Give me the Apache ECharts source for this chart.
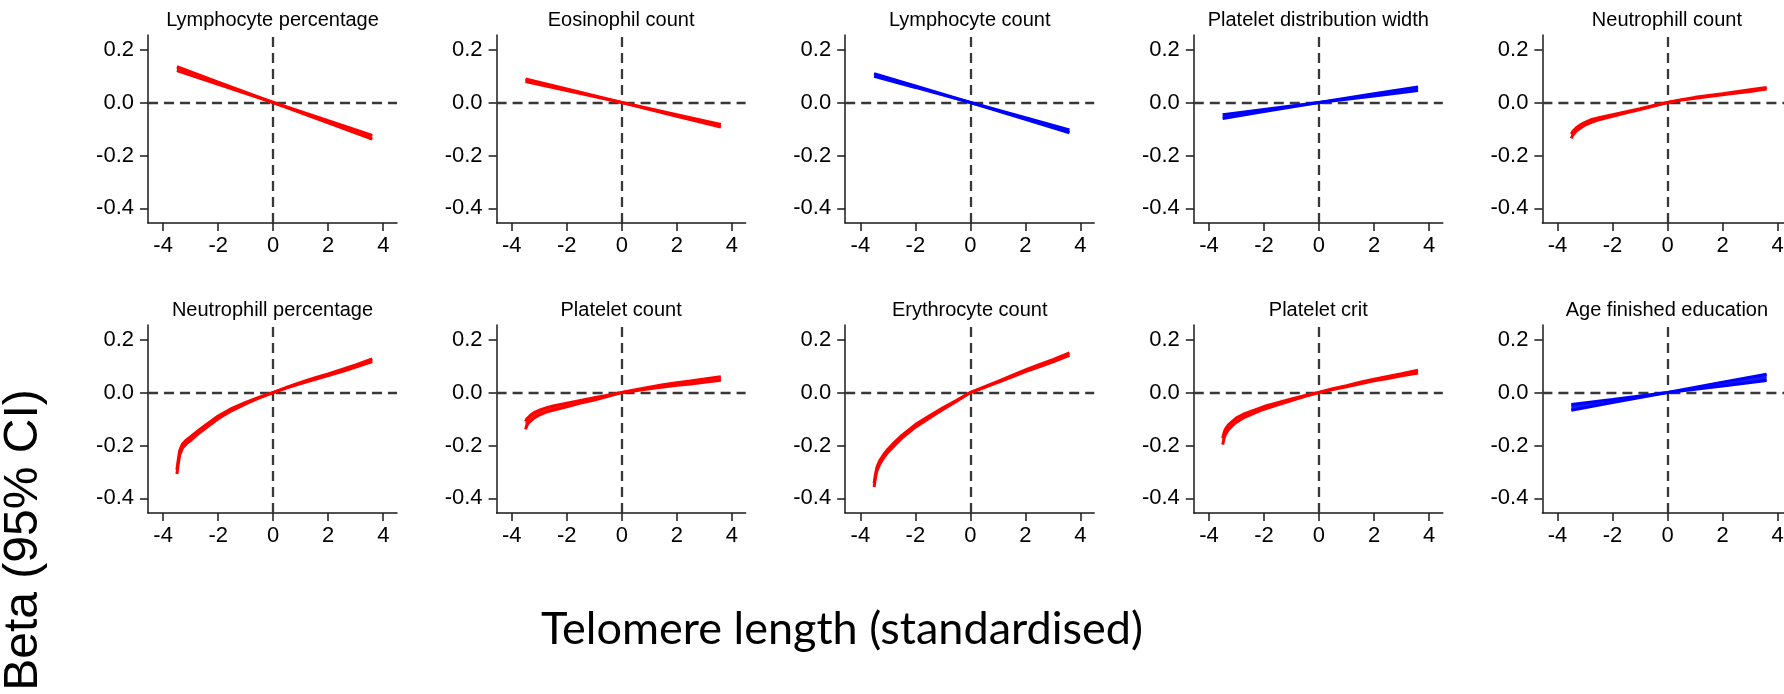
<!DOCTYPE html>
<html>
<head>
<meta charset="utf-8">
<title>Telomere length associations</title>
<script src="https://cdn.jsdelivr.net/npm/echarts@6/dist/echarts.min.js"></script>
<style>
  html, body { margin: 0; padding: 0; background: #fff; }
  #chart { width: 1784px; height: 694px; }
</style>
</head>
<body>
<div id="chart"></div>
<script>
// Panel titles, in reading order (two rows of five)
const panelTitles = [
  'Lymphocyte percentage', 'Eosinophil count', 'Lymphocyte count',
  'Platelet distribution width', 'Neutrophill count',
  'Neutrophill percentage', 'Platelet count', 'Erythrocyte count',
  'Platelet crit', 'Age finished education'
];

// Tick labels
const xTicks = [-4, -2, 0, 2, 4];
const yTicks = [-0.4, -0.2, 0, 0.2];

// Telomere length grid for straight (linear) fits and for curved fits
const xLine = [-3.5, -2, 0, 2, 3.6];
const xCurve = [-3.5, -3.45, -3.4, -3.3, -3.15, -3, -2.75, -2.5, -2, -1.5, -1, -0.5, 0, 0.5, 1, 1.5, 2, 2.5, 3, 3.6];

// Lower / upper 95% CI bounds of beta for each outcome
const lymphPctLo = [0.121, 0.069, 0, -0.077, -0.138];
const lymphPctHi = [0.135, 0.077, 0, -0.069, -0.124];

const eosinCountLo = [0.079, 0.045, 0, -0.052, -0.093];
const eosinCountHi = [0.089, 0.051, 0, -0.046, -0.083];

const lymphCountLo = [0.099, 0.057, 0, -0.063, -0.114];
const lymphCountHi = [0.109, 0.063, 0, -0.057, -0.104];

const pltDistWidthLo = [-0.060, -0.034, 0, 0.025, 0.045];
const pltDistWidthHi = [-0.046, -0.026, 0, 0.033, 0.059];

const neutCountLo = [-0.135, -0.124, -0.117, -0.106, -0.095, -0.085, -0.074, -0.065, -0.052, -0.039, -0.0265, -0.013, 0, 0.009, 0.0165, 0.023, 0.029, 0.0355, 0.042, 0.051];
const neutCountHi = [-0.119, -0.110, -0.103, -0.094, -0.083, -0.075, -0.064, -0.057, -0.046, -0.035, -0.0235, -0.011, 0, 0.011, 0.0195, 0.027, 0.033, 0.0405, 0.048, 0.057];

const neutPctLo = [-0.308, -0.270, -0.236, -0.211, -0.193, -0.181, -0.158, -0.138, -0.099, -0.068, -0.043, -0.0205, 0, 0.0175, 0.034, 0.049, 0.064, 0.079, 0.096, 0.117];
const neutPctHi = [-0.292, -0.254, -0.220, -0.195, -0.179, -0.167, -0.146, -0.126, -0.089, -0.060, -0.037, -0.0175, 0, 0.0205, 0.038, 0.055, 0.070, 0.087, 0.104, 0.127];

const pltCountLo = [-0.139, -0.125, -0.116, -0.106, -0.094, -0.085, -0.074, -0.067, -0.054, -0.040, -0.028, -0.014, 0, 0.007, 0.014, 0.021, 0.027, 0.032, 0.039, 0.046];
const pltCountHi = [-0.109, -0.099, -0.092, -0.084, -0.074, -0.067, -0.058, -0.051, -0.040, -0.030, -0.020, -0.010, 0, 0.011, 0.020, 0.029, 0.037, 0.044, 0.051, 0.060];

const eryCountLo = [-0.357, -0.322, -0.297, -0.272, -0.246, -0.226, -0.199, -0.173, -0.131, -0.097, -0.064, -0.0325, 0, 0.0185, 0.038, 0.058, 0.079, 0.097, 0.116, 0.140];
const eryCountHi = [-0.343, -0.308, -0.283, -0.258, -0.234, -0.214, -0.187, -0.163, -0.121, -0.089, -0.058, -0.0295, 0, 0.0215, 0.042, 0.064, 0.085, 0.105, 0.124, 0.150];

const pltCritLo = [-0.197, -0.173, -0.158, -0.141, -0.125, -0.112, -0.096, -0.084, -0.063, -0.046, -0.030, -0.0145, 0, 0.0115, 0.022, 0.033, 0.044, 0.053, 0.063, 0.074];
const pltCritHi = [-0.173, -0.151, -0.138, -0.123, -0.109, -0.096, -0.082, -0.072, -0.053, -0.038, -0.024, -0.0115, 0, 0.0145, 0.026, 0.039, 0.050, 0.061, 0.071, 0.084];

const ageEduLo = [-0.067, -0.038, 0, 0.025, 0.045];
const ageEduHi = [-0.045, -0.026, 0, 0.039, 0.069];

const RED = '#ff0000';
const BLUE = '#0000ff';

const panels = [
  { x: xLine,  lo: lymphPctLo,     hi: lymphPctHi,     color: RED },
  { x: xLine,  lo: eosinCountLo,   hi: eosinCountHi,   color: RED },
  { x: xLine,  lo: lymphCountLo,   hi: lymphCountHi,   color: BLUE },
  { x: xLine,  lo: pltDistWidthLo, hi: pltDistWidthHi, color: BLUE },
  { x: xCurve, lo: neutCountLo,    hi: neutCountHi,    color: RED },
  { x: xCurve, lo: neutPctLo,      hi: neutPctHi,      color: RED },
  { x: xCurve, lo: pltCountLo,     hi: pltCountHi,     color: RED },
  { x: xCurve, lo: eryCountLo,     hi: eryCountHi,     color: RED },
  { x: xCurve, lo: pltCritLo,      hi: pltCritHi,      color: RED },
  { x: xLine,  lo: ageEduLo,       hi: ageEduHi,       color: BLUE }
];

const FONT = 'Liberation Sans, Arial, sans-serif';
const AXIS_COLOR = '#1a1a1a';
const BAND_LINE_W = 3;
const PANEL_LEFT0 = 148, PANEL_STEP = 348.6, PANEL_W = 249, PANEL_H = 188;
const ROW_TOP = [35, 325];

const grids = [], xAxes = [], yAxes = [], series = [], titles = [];

panels.forEach((p, i) => {
  const col = i % 5, row = Math.floor(i / 5);
  const left = PANEL_LEFT0 + PANEL_STEP * col;
  const top = ROW_TOP[row];
  grids.push({ left: left, top: top, width: PANEL_W, height: PANEL_H, outerBoundsMode: 'none', containLabel: false });

  xAxes.push({
    type: 'value', gridIndex: i, min: -4.55, max: 4.5,
    axisLine: { onZero: false, lineStyle: { color: AXIS_COLOR, width: 1.5 } },
    axisTick: { show: true, length: 8, customValues: xTicks, lineStyle: { color: AXIS_COLOR, width: 1.5 } },
    axisLabel: { customValues: xTicks, margin: 12, fontSize: 22, fontFamily: FONT, color: '#000',
                 formatter: v => String(v) },
    splitLine: { show: false }
  });
  yAxes.push({
    type: 'value', gridIndex: i, min: -0.455, max: 0.255,
    axisLine: { show: true, onZero: false, lineStyle: { color: AXIS_COLOR, width: 1.5 } },
    axisTick: { show: true, length: 8, customValues: yTicks, lineStyle: { color: AXIS_COLOR, width: 1.5 } },
    axisLabel: { customValues: yTicks, margin: 14, fontSize: 22, fontFamily: FONT, color: '#000',
                 formatter: v => v.toFixed(1) },
    splitLine: { show: false }
  });

  titles.push({
    text: panelTitles[i], left: left + PANEL_W / 2, top: top - 25, textAlign: 'center', padding: 0,
    textStyle: { fontSize: 20, fontWeight: 'normal', fontFamily: FONT, color: '#000' }
  });

  // shaded band between the lower and upper bounds
  series.push({
    type: 'custom', xAxisIndex: i, yAxisIndex: i, z: 2, silent: true,
    clip: true,
    data: [0],
    renderItem: (params, api) => {
      const pts = [];
      for (let k = 0; k < p.x.length; k++) pts.push(api.coord([p.x[k], p.hi[k]]));
      for (let k = p.x.length - 1; k >= 0; k--) pts.push(api.coord([p.x[k], p.lo[k]]));
      return { type: 'polygon', shape: { points: pts }, style: { fill: p.color, opacity: 0.9 } };
    }
  });

  // lower bound line, also carries the dashed zero reference lines
  series.push({
    type: 'line', xAxisIndex: i, yAxisIndex: i, symbol: 'none', z: 3, silent: true,
    data: p.x.map((x, k) => [x, p.lo[k]]),
    lineStyle: { color: p.color, width: BAND_LINE_W },
    markLine: {
      silent: true, symbol: 'none', z: 1, animation: false,
      label: { show: false },
      lineStyle: { color: '#383838', type: [10, 6], width: 2.3 },
      emphasis: { disabled: true },
      data: [{ xAxis: 0 }, { yAxis: 0 }]
    }
  });
  // upper bound line
  series.push({
    type: 'line', xAxisIndex: i, yAxisIndex: i, symbol: 'none', z: 3, silent: true,
    data: p.x.map((x, k) => [x, p.hi[k]]),
    lineStyle: { color: p.color, width: BAND_LINE_W }
  });
});

const chart = echarts.init(document.getElementById('chart'), null, { renderer: 'canvas' });
chart.setOption({
  animation: false,
  backgroundColor: '#fff',
  title: titles,
  grid: grids,
  xAxis: xAxes,
  yAxis: yAxes,
  series: series,
  graphic: [
    {
      type: 'text', x: 24, y: 540, rotation: Math.PI / 2,
      style: { text: 'Beta (95% CI)', fontSize: 48, fontFamily: FONT, fill: '#000',
               align: 'center', verticalAlign: 'middle', textAlign: 'center', textVerticalAlign: 'middle' }
    },
    {
      type: 'text', x: 842, y: 629,
      style: { text: 'Telomere length (standardised)', fontSize: 45, fontFamily: 'Lato, Open Sans, sans-serif', fill: '#000',
               align: 'center', verticalAlign: 'middle', textAlign: 'center', textVerticalAlign: 'middle' }
    }
  ]
});
</script>
</body>
</html>
